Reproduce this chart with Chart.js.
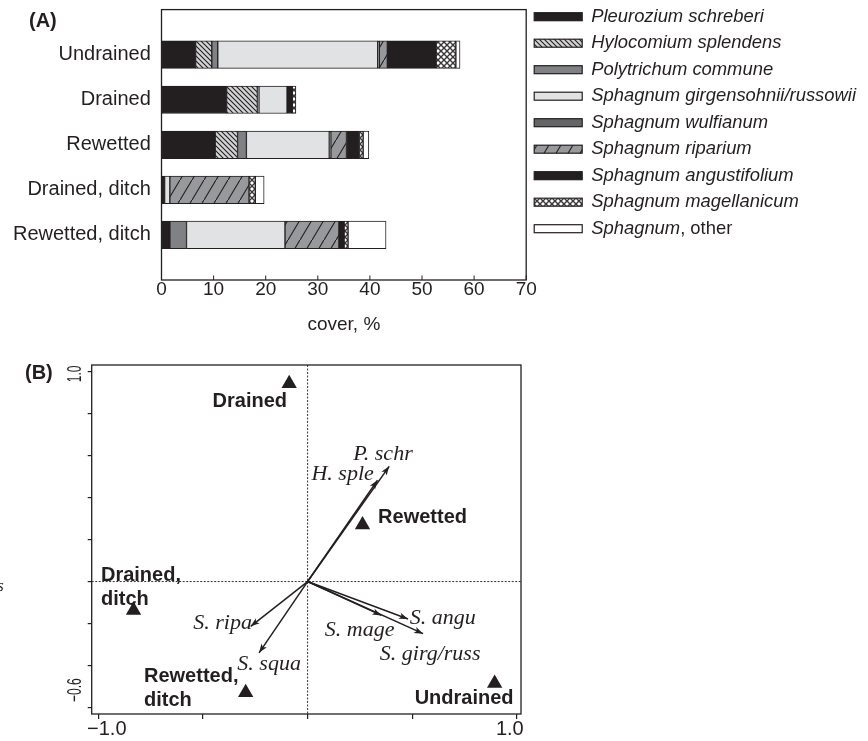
<!DOCTYPE html>
<html><head><meta charset="utf-8">
<script src="https://cdn.jsdelivr.net/npm/chart.js@4"></script>
<style>
html,body{margin:0;padding:0;background:#fff;width:868px;height:741px;overflow:hidden}
canvas{position:absolute;left:0}
#a{top:0}
#b{top:340px}
</style></head><body>
<canvas id="a" width="868" height="340"></canvas>
<canvas id="b" width="868" height="401"></canvas>
<script>
// ---------- Panel A data ----------
const sites = ['Undrained', 'Drained', 'Rewetted', 'Drained, ditch', 'Rewetted, ditch'];
const speciesNames = ['Pleurozium schreberi', 'Hylocomium splendens', 'Polytrichum commune',
  'Sphagnum girgensohnii/russowii', 'Sphagnum wulfianum', 'Sphagnum riparium',
  'Sphagnum angustifolium', 'Sphagnum magellanicum', 'Sphagnum, other'];
const pleurozium    = [6.55, 12.5, 10.3, 0.6, 1.6];
const hylocomium    = [3.1, 5.9, 4.3, 0, 0];
const polytrichum   = [1.15, 0.3, 1.7, 0, 3.2];
const girgensohnii  = [30.7, 5.4, 15.9, 1.0, 18.9];
const wulfianum     = [0.3, 0, 0.3, 0, 0];
const riparium      = [1.55, 0, 3.0, 15.2, 10.35];
const angustifolium = [9.35, 1.0, 2.5, 0, 1.0];
const magellanicum  = [3.8, 0.7, 0.7, 1.2, 0.75];
const otherSphagnum = [0.8, 0, 1.1, 1.7, 7.3];
const coverTicks = [0, 10, 20, 30, 40, 50, 60, 70];

// ---------- Panel B data ----------
const siteNames = ['Drained', 'Rewetted', 'Drained, ditch', 'Rewetted, ditch', 'Undrained'];
const siteAxis1 = [-0.088, 0.2625, -0.832, -0.296, 0.894];
const siteAxis2 = [0.942, 0.27, -0.137, -0.528, -0.484];
const sppNames = ['P. schr', 'H. sple', 'S. angu', 'S. mage', 'S. girg/russ', 'S. ripa', 'S. squa'];
const sppAxis1 = [0.39, 0.334, 0.48, 0.353, 0.552, -0.272, -0.232];
const sppAxis2 = [0.548, 0.482, -0.178, -0.161, -0.248, -0.213, -0.339];
const axis1Ticks = [-1.0, -0.5, 0, 0.5, 1.0];
const axis2Ticks = [-0.6, -0.4, -0.2, 0, 0.2, 0.4, 0.6, 0.8, 1.0];
const axis1Labels = ['\u22121.0', '1.0'];
const axis2Labels = ['\u22120.6', '1.0'];

// ---------- styles ----------
const INK = '#231f20';
const SANS = '"Liberation Sans", Arial, sans-serif';
const SERIF = '"Liberation Serif", "Times New Roman", serif';

function tile(w, h, bg, draw) {
  const c = document.createElement('canvas'); c.width = w; c.height = h;
  const g = c.getContext('2d'); g.fillStyle = bg; g.fillRect(0, 0, w, h);
  g.strokeStyle = INK; draw(g, w, h);
  return document.getElementById('a').getContext('2d').createPattern(c, 'repeat');
}
const hatchBack = tile(5, 5, '#d2d3d5', (g, w, h) => {
  g.lineWidth = 1.1;
  g.beginPath(); g.moveTo(-1, -1); g.lineTo(w + 1, h + 1);
  g.moveTo(-1, h - 1); g.lineTo(1, h + 1); g.moveTo(w - 1, -1); g.lineTo(w + 1, 1); g.stroke();
});
const hatchFwd = tile(12, 20, '#98999c', (g, w, h) => {
  g.lineWidth = 1.1;
  g.beginPath(); g.moveTo(-1, h + 1.7); g.lineTo(w + 1, -1.7); g.stroke();
});
const crossHatch = tile(6, 6, '#ffffff', (g, w, h) => {
  g.lineWidth = 1.4; g.strokeStyle = '#3a3738';
  g.beginPath(); g.moveTo(0, 0); g.lineTo(w, h); g.moveTo(w, 0); g.lineTo(0, h); g.stroke();
});
const fills = [INK, hatchBack, '#808184', '#e1e2e4', '#646567', hatchFwd, INK, crossHatch, '#ffffff'];
const seriesList = [pleurozium, hylocomium, polytrichum, girgensohnii, wulfianum, riparium,
  angustifolium, magellanicum, otherSphagnum];

// ---------- Panel A plugin: frame, inner ticks, legend, label ----------
const panelA = {
  id: 'panelA',
  afterDraw(chart) {
    const { ctx, chartArea: ca, scales } = chart;
    ctx.save();
    ctx.strokeStyle = INK; ctx.lineWidth = 1.3;
    ctx.strokeRect(ca.left, ca.top, ca.right - ca.left, ca.bottom - ca.top);
    ctx.lineWidth = 1;
    coverTicks.forEach(v => {
      const x = scales.x.getPixelForValue(v);
      ctx.beginPath(); ctx.moveTo(x, ca.bottom); ctx.lineTo(x, ca.bottom - 4.5); ctx.stroke();
    });
    // legend
    const lx = ca.right + 8, rowH = 26.5, y0 = ca.top + 7.1;
    chart.data.datasets.forEach((ds, i) => {
      const y = y0 + i * rowH;
      ctx.fillStyle = ds.backgroundColor;
      ctx.fillRect(lx, y - 4, 48, 8);
      ctx.strokeStyle = INK; ctx.lineWidth = 1.2;
      ctx.strokeRect(lx, y - 4, 48, 8);
      ctx.fillStyle = INK; ctx.textBaseline = 'middle'; ctx.textAlign = 'left';
      const tx = lx + 57;
      if (ds.label.indexOf(',') > 0) {
        const parts = ds.label.split(',');
        ctx.font = 'italic 18.4px ' + SANS;
        ctx.fillText(parts[0], tx, y);
        const w = ctx.measureText(parts[0]).width;
        ctx.font = '18.4px ' + SANS;
        ctx.fillText(',' + parts[1], tx + w, y);
      } else {
        ctx.font = 'italic 18.4px ' + SANS;
        ctx.fillText(ds.label, tx, y);
      }
    });
    ctx.font = 'bold 20px ' + SANS; ctx.fillStyle = INK;
    ctx.textAlign = 'left'; ctx.textBaseline = 'middle';
    ctx.fillText('(A)', 29, 21.5);
    ctx.restore();
  }
};

new Chart(document.getElementById('a'), {
  type: 'bar',
  data: {
    labels: [''].concat(sites, ['']),
    datasets: seriesList.map((s, i) => ({
      label: speciesNames[i],
      data: [null].concat(s, [null]),
      backgroundColor: fills[i],
      borderColor: INK,
      borderWidth: 1,
      borderSkipped: false,
      barThickness: 27.5
    }))
  },
  options: {
    indexAxis: 'y', animation: false, responsive: false,
    layout: { padding: { left: 10, right: 341.8, top: 9.6, bottom: 0 } },
    plugins: { legend: { display: false }, tooltip: { enabled: false } },
    scales: {
      x: {
        stacked: true, min: 0, max: 70,
        afterBuildTicks: s => { s.ticks = coverTicks.map(v => ({ value: v })); },
        ticks: { padding: 0, color: INK, font: { size: 19, family: SANS, lineHeight: 1 } },
        grid: { display: false, drawTicks: false }, border: { display: false },
        title: { display: true, text: 'cover, %', color: INK, font: { size: 19, family: SANS, lineHeight: 1 }, padding: { top: 0, bottom: 6 } },
        afterFit: s => { s.height = 60; s.paddingLeft = 0; s.paddingRight = 0; }
      },
      y: {
        stacked: true, offset: false,
        grid: { display: false, drawTicks: false }, border: { display: false },
        ticks: { padding: 10.7, color: INK, autoSkip: false, font: { size: 20, family: SANS } },
        afterFit: s => { s.width = 151.5; s.paddingTop = 0; s.paddingBottom = 0; }
      }
    }
  },
  plugins: [panelA]
});

// ---------- Panel B ----------
const siteLabelOffsets = [[-76.6, 23.8], [15.6, -2.1], [-32.6, -29.5], [-101.7, -10.2], [-80, 21.1]];
const sppLabelOffsets = [[-36, -6], [-66, 0], [1.7, 4.7], [-56.7, 21], [-43.3, 26.7], [-57.4, 2.6], [-21.7, 17.4]];

const panelB = {
  id: 'panelB',
  beforeDatasetsDraw(chart) {
    const { ctx, chartArea: ca, scales } = chart;
    ctx.save();
    ctx.strokeStyle = '#333'; ctx.lineWidth = 1; ctx.setLineDash([2, 1.5]);
    const x0 = scales.x.getPixelForValue(0), y0 = scales.y.getPixelForValue(0);
    ctx.beginPath(); ctx.moveTo(x0, ca.top); ctx.lineTo(x0, ca.bottom);
    ctx.moveTo(ca.left, y0); ctx.lineTo(ca.right, y0); ctx.stroke();
    ctx.restore();
  },
  afterDraw(chart) {
    const { ctx, chartArea: ca, scales } = chart;
    const sx = scales.x, sy = scales.y;
    ctx.save();
    ctx.strokeStyle = INK; ctx.lineWidth = 1.3; ctx.setLineDash([]);
    ctx.strokeRect(ca.left, ca.top, ca.right - ca.left, ca.bottom - ca.top);
    // arrowheads
    ctx.fillStyle = INK;
    const ox = sx.getPixelForValue(0), oy = sy.getPixelForValue(0);
    sppAxis1.forEach((v, i) => {
      const x1 = sx.getPixelForValue(v), y1 = sy.getPixelForValue(sppAxis2[i]);
      const a = Math.atan2(y1 - oy, x1 - ox), len = 9, half = 3.2;
      ctx.beginPath(); ctx.moveTo(x1, y1);
      ctx.lineTo(x1 - len * Math.cos(a) + half * Math.sin(a), y1 - len * Math.sin(a) - half * Math.cos(a));
      ctx.lineTo(x1 - len * Math.cos(a) * 0.75, y1 - len * Math.sin(a) * 0.75);
      ctx.lineTo(x1 - len * Math.cos(a) - half * Math.sin(a), y1 - len * Math.sin(a) + half * Math.cos(a));
      ctx.closePath(); ctx.fill();
      ctx.font = 'italic 22px ' + SERIF; ctx.textAlign = 'left'; ctx.textBaseline = 'alphabetic';
      ctx.fillText(sppNames[i], x1 + sppLabelOffsets[i][0], y1 + sppLabelOffsets[i][1]);
    });
    // site labels
    ctx.font = 'bold 20px ' + SANS;
    siteAxis1.forEach((v, i) => {
      const x = sx.getPixelForValue(v), y = sy.getPixelForValue(siteAxis2[i]);
      const name = siteNames[i];
      const lines = name.indexOf(', ') > 0 ? [name.split(' ')[0], name.split(' ')[1]] : [name];
      lines.forEach((t, k) => ctx.fillText(t, x + siteLabelOffsets[i][0], y + siteLabelOffsets[i][1] + k * 23.7));
    });
    // axis labels
    ctx.font = '20px ' + SANS; ctx.textBaseline = 'middle'; ctx.textAlign = 'center';
    const yb = ca.bottom + 15;
    ctx.fillText(axis1Labels[0], sx.getPixelForValue(axis1Ticks[0]) + 8.4, yb);
    ctx.fillText(axis1Labels[1], sx.getPixelForValue(axis1Ticks[axis1Ticks.length - 1]) - 7, yb);
    const yl = [[axis2Labels[0], sy.getPixelForValue(axis2Ticks[0]) - 17.5], [axis2Labels[1], sy.getPixelForValue(axis2Ticks[axis2Ticks.length - 1]) + 2.5]];
    yl.forEach(([t, py]) => {
      ctx.save(); ctx.translate(74, py); ctx.rotate(-Math.PI / 2); ctx.scale(0.6, 1);
      ctx.fillText(t, 0, 1); ctx.restore();
    });
    ctx.font = 'bold 20px ' + SANS; ctx.textAlign = 'left';
    ctx.fillText('(B)', 25, 33);
    ctx.font = 'italic 16px ' + SERIF; ctx.textBaseline = 'alphabetic';
    ctx.fillText('s', -2.5, 251);
    ctx.restore();
  }
};

const arrowSets = sppAxis1.map((v, i) => ({
  type: 'line', label: sppNames[i],
  data: [{ x: 0, y: 0 }, { x: v, y: sppAxis2[i] }],
  borderColor: INK, borderWidth: 1.5, pointRadius: 0, fill: false, tension: 0
}));

new Chart(document.getElementById('b'), {
  type: 'scatter',
  data: {
    datasets: [{
      type: 'scatter', label: 'sites',
      data: siteAxis1.map((v, i) => ({ x: v, y: siteAxis2[i] })),
      pointStyle: 'triangle', pointRadius: 8.85, backgroundColor: INK, borderColor: INK, borderWidth: 0
    }].concat(arrowSets)
  },
  options: {
    animation: false, responsive: false,
    layout: { padding: { left: 71.7, right: 347, top: 25, bottom: 17 } },
    plugins: { legend: { display: false }, tooltip: { enabled: false } },
    scales: {
      x: {
        type: 'linear', min: -1.032, max: 1.02,
        afterBuildTicks: s => { s.ticks = axis1Ticks.map(v => ({ value: v })); },
        ticks: { display: false },
        grid: { drawOnChartArea: false, drawTicks: true, tickLength: 5, color: INK, lineWidth: 1.2 },
        border: { display: false },
        afterFit: s => { s.height = 10; s.paddingLeft = 0; s.paddingRight = 0; }
      },
      y: {
        type: 'linear', min: -0.63, max: 1.03,
        afterBuildTicks: s => { s.ticks = axis2Ticks.map(v => ({ value: v })); },
        ticks: { display: false },
        grid: { drawOnChartArea: false, drawTicks: true, tickLength: 4, color: INK, lineWidth: 1.2 },
        border: { display: false },
        afterFit: s => { s.width = 20; s.paddingTop = 0; s.paddingBottom = 0; }
      }
    }
  },
  plugins: [panelB]
});
</script>
</body></html>
